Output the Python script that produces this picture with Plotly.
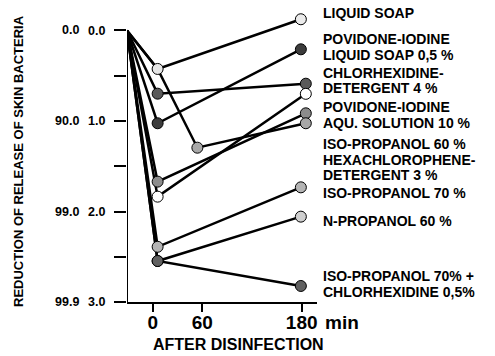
import plotly.graph_objects as go

# ---------------- data ----------------
T_START = -31          # origin of all curves (top of the y axis)
# times (min) and log-reduction values for each preparation
soap_t = [T_START, 6, 179]
soap_v = [0.0, 0.425, -0.124]

pvp_soap_t = [T_START, 6, 179]
pvp_soap_v = [0.0, 1.025, 0.208]

chx_det_t = [T_START, 6, 185]
chx_det_v = [0.0, 0.698, 0.588]

white_t = [T_START, 6, 185]
white_v = [0.0, 1.836, 0.700]

pvp_aqu_t = [T_START, 6, 185]
pvp_aqu_v = [0.0, 1.670, 0.915]

hexa_t = [T_START, 6, 54, 185]
hexa_v = [0.0, 0.425, 1.295, 1.025]

iso70_t = [T_START, 6, 179]
iso70_v = [0.0, 2.390, 1.733]

npro_t = [T_START, 6, 179]
npro_v = [0.0, 2.547, 2.057]

isochx_t = [T_START, 6, 179]
isochx_v = [0.0, 2.547, 2.823]

series = [
    (soap_t, soap_v), (pvp_soap_t, pvp_soap_v), (chx_det_t, chx_det_v),
    (white_t, white_v), (pvp_aqu_t, pvp_aqu_v), (hexa_t, hexa_v),
    (iso70_t, iso70_v), (npro_t, npro_v), (isochx_t, isochx_v),
]

# marker fill per point (None = no marker drawn at that point)
marker_fill = [
    [None, "#e6e6e6", "#ebebeb"],
    [None, "#3c3c3c", "#3c3c3c"],
    [None, "#5a5a5a", "#5a5a5a"],
    [None, "#ffffff", "#ffffff"],
    [None, "#8c8c8c", "#8c8c8c"],
    [None, None, "#a8a8a8", "#a8a8a8"],
    [None, "#b4b4b4", "#b4b4b4"],
    [None, "#606060", "#cfcfcf"],
    [None, "#606060", "#606060"],
]

y_ticks = [0, 0.5, 1, 1.5, 2, 2.5, 3]
y_ticktext = ["0.0", "", "1.0", "", "2.0", "", "3.0"]
pct_vals = [0, 1, 2, 3]
pct_text = ["0.0", "90.0", "99.0", "99.9"]
x_ticks = [0, 60, 180]
x_ticktext = ["0", "60", "180"]

label_lines = [
    "LIQUID SOAP",
    "POVIDONE-IODINE", "LIQUID SOAP 0,5 %",
    "CHLORHEXIDINE-", "DETERGENT 4 %",
    "POVIDONE-IODINE", "AQU. SOLUTION 10 %",
    "ISO-PROPANOL 60 %", "HEXACHLOROPHENE-", "DETERGENT 3 %",
    "ISO-PROPANOL 70 %",
    "N-PROPANOL 60 %",
    "ISO-PROPANOL 70% +", "CHLORHEXIDINE 0,5%",
]
label_py = [13.5, 39, 55, 73, 88.5, 107, 123, 144, 160, 175.5, 192.7, 220.7, 276, 292.5]

# ---------------- layout constants (pixels) ----------------
W, H = 495, 356
Y_TOP = -0.149                 # a little headroom above 0.0 for the top marker
L, R, B = 127, 317, 302
PX_PER_UNIT = 90.5
T = B - (3 - Y_TOP) * PX_PER_UNIT
def px2x(px): return (px - L) / (R - L)
def py2y(py): return (B - py) / (B - T)

FONT = "Liberation Sans, Arial, Helvetica, sans-serif"

fig = go.Figure()

for (t, v) in series:
    fig.add_trace(go.Scatter(x=t, y=v, mode="lines",
                             line=dict(color="black", width=2.5),
                             cliponaxis=False, hoverinfo="skip", showlegend=False))

for (t, v), fills in zip(series, marker_fill):
    xs = [ti for ti, f in zip(t, fills) if f]
    ys = [vi for vi, f in zip(v, fills) if f]
    cs = [f for f in fills if f]
    fig.add_trace(go.Scatter(x=xs, y=ys, mode="markers",
                             marker=dict(size=11, color=cs,
                                         line=dict(color="black", width=1)),
                             cliponaxis=False, showlegend=False))

# y axis line from 0.0 down to 3.0
fig.add_shape(type="line", xref="x", yref="y", x0=T_START, x1=T_START,
              y0=y_ticks[0], y1=y_ticks[-1], line=dict(color="black", width=2))

ann = []
for val, txt in zip(pct_vals, pct_text):
    ann.append(dict(x=px2x(81), xref="paper", y=val, yref="y", text=txt,
                    xanchor="right", yanchor="middle", showarrow=False,
                    font=dict(family=FONT, size=12.5, color="black", weight="bold")))
for txt, py in zip(label_lines, label_py):
    ann.append(dict(x=px2x(321), xref="paper", y=py2y(py), yref="paper", text=txt,
                    xanchor="left", yanchor="middle", showarrow=False,
                    font=dict(family=FONT, size=14, color="black", weight="bold")))
ann.append(dict(x=px2x(323), xref="paper", y=py2y(322.5), yref="paper", text="min",
                xanchor="left", yanchor="middle", showarrow=False,
                font=dict(family=FONT, size=19, color="black", weight="bold")))
ann.append(dict(x=px2x(238), xref="paper", y=py2y(344.5), yref="paper",
                text="AFTER DISINFECTION", xanchor="center", yanchor="middle",
                showarrow=False,
                font=dict(family=FONT, size=16, color="black", weight="bold")))
ann.append(dict(x=px2x(19), xref="paper", y=py2y(161), yref="paper",
                text="REDUCTION OF RELEASE OF SKIN BACTERIA", textangle=-90,
                xanchor="center", yanchor="middle", showarrow=False,
                font=dict(family=FONT, size=13, color="black", weight="bold")))

fig.update_layout(
    width=W, height=H,
    margin=dict(l=L, r=W - R, t=T, b=H - B, pad=0, autoexpand=False),
    paper_bgcolor="white", plot_bgcolor="white",
    xaxis=dict(range=[T_START, 198.5], showgrid=False, zeroline=False,
               showline=True, linecolor="black", linewidth=2, automargin=False,
               tickmode="array", tickvals=x_ticks, ticktext=x_ticktext,
               ticks="outside", ticklen=8, tickwidth=2, tickcolor="black",
               ticklabelstandoff=-6,
               tickfont=dict(family=FONT, size=19, color="black", weight="bold")),
    yaxis=dict(range=[3, Y_TOP], showgrid=False, zeroline=False,
               showline=False, automargin=False,
               tickmode="array", tickvals=y_ticks, ticktext=y_ticktext,
               ticks="outside", ticklen=12, tickwidth=2, tickcolor="black",
               ticklabelstandoff=6,
               tickfont=dict(family=FONT, size=12.5, color="black", weight="bold")),
    annotations=ann,
)

fig.write_html("out.html", config={"displayModeBar": False},
               post_script="document.body.style.margin='0';document.body.style.overflow='hidden';")
